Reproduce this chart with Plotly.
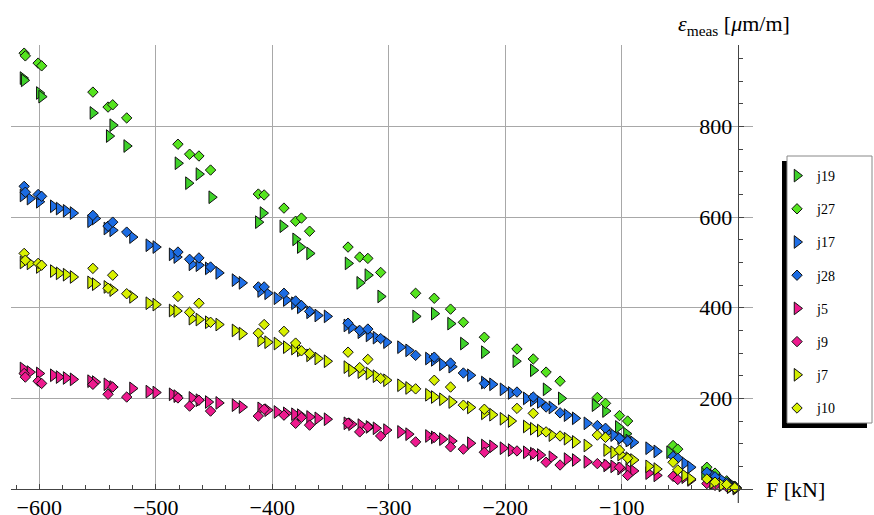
import plotly.graph_objects as go

# ---------------- data ----------------
# load steps of the "diamond" measurements (kN)
F_D = [-613, -612, -601, -598, -554, -541, -537, -525, -481, -471, -463, -453,
       -412, -407, -390, -380, -375, -368, -335, -325, -318, -307, -277, -261,
       -247, -236, -218, -190, -176, -165, -153, -121, -114, -102, -95, -56,
       -52, -27, -20, -10, -3]
J27 = [962, 956, 940, 934, 876, 843, 848, 819, 761, 739, 735, 704,
       651, 649, 620, 591, 598, 569, 534, 512, 509, 478, 432, 421,
       397, 368, 335, 309, 287, 258, 238, 202, 189, 162, 150, 96,
       88, 48, 35, 18, 6]
J28 = [668, 655, 650, 646, 604, 580, 589, 567, 523, 507, 510, 490,
       446, 446, 432, 415, 405, 392, 366, 350, 353, 332, 295, 291,
       278, 256, 233, 214, 203, 181, 168, 140, 134, 112, 106, 72,
       68, 37, 27, 14, 5]
J9 = [255, 247, 238, 233, 231, 209, 225, 203, 201, 183, 196, 172,
      161, 176, 163, 145, 158, 141, 145, 126, 137, 117, 104, 114,
      93, 88, 81, 84, 78, 59, 53, 56, 53, 48, 30, 28,
      21, 12, 8, 5, 2]
J10 = [520, 505, 498, 494, 487, 443, 472, 431, 425, 390, 410, 368,
       344, 363, 348, 322, 305, 299, 302, 268, 286, 244, 221, 240,
       225, 185, 176, 178, 167, 126, 117, 119, 114, 86, 68, 59,
       42, 22, 15, 10, 3]

# load steps of the "triangle" measurements (kN)
F_T = [-614, -608, -600, -588, -583, -577, -571, -556, -552, -542, -537, -520,
       -506, -500, -486, -482, -469, -463, -455, -446, -432, -426, -410, -404,
       -396, -388, -381, -376, -368, -361, -353, -336, -332, -324, -317, -311,
       -302, -290, -283, -266, -261, -254, -246, -230, -218, -211, -202, -195,
       -182, -176, -170, -160, -147, -140, -130, -113, -107, -101, -94, -90,
       -77, -70, -46, -41, -22, -14, -7, -2]
J17 = [648, 641, 634, 624, 619, 614, 609, 591, 597, 575, 571, 556,
       538, 534, 518, 512, 496, 494, 487, 477, 461, 455, 437, 432,
       421, 417, 410, 401, 390, 383, 381, 361, 357, 346, 339, 334,
       324, 313, 306, 288, 285, 275, 270, 251, 235, 231, 220, 212,
       200, 196, 192, 180, 163, 156, 145, 125, 119, 112, 107, 103,
       90, 83, 57, 48, 30, 20, 10, 3]
J5 = [266, 258, 255, 251, 247, 245, 242, 238, 236, 231, 225, 222,
      215, 213, 209, 205, 201, 196, 192, 190, 185, 181, 178, 174,
      170, 167, 165, 163, 159, 156, 154, 145, 143, 141, 137, 134,
      130, 126, 121, 117, 114, 110, 106, 101, 96, 94, 90, 86,
      81, 78, 75, 70, 66, 64, 60, 52, 50, 45, 42, 40,
      35, 30, 26, 20, 12, 8, 4, 1]
J7 = [500, 498, 490, 481, 476, 473, 468, 456, 452, 446, 439, 424,
      410, 407, 394, 393, 376, 374, 368, 363, 350, 343, 328, 324,
      321, 313, 310, 306, 295, 288, 282, 269, 262, 258, 255, 249,
      240, 229, 223, 208, 203, 198, 192, 180, 167, 164, 155, 150,
      138, 133, 129, 119, 111, 104, 96, 86, 81, 76, 68, 64,
      50, 44, 30, 22, 14, 9, 5, 2]

# j19 was recorded at fewer load steps
F_J19 = [-614, -613, -600, -598, -554, -540, -537, -525, -481, -472, -463, -452,
         -412, -408, -391, -380, -376, -368, -335, -325, -318, -307, -277, -261,
         -247, -236, -218, -191, -176, -165, -152, -123, -114, -103, -96, -59,
         -29, -5]
J19 = [907, 902, 874, 866, 830, 779, 803, 757, 719, 675, 695, 644,
       589, 609, 580, 551, 534, 520, 498, 455, 472, 425, 381, 387,
       365, 321, 302, 282, 262, 220, 200, 185, 172, 137, 122, 81,
       35, 8]

X_TICKS = [-600, -500, -400, -300, -200, -100]
Y_TICKS = [200, 400, 600, 800]
X_RANGE = [-624.3, 12.6]
Y_RANGE = [0, 980]

SERIES = [
    ("j19", F_J19, J19, "triangle-right", "#3ed22a"),
    ("j27", F_D, J27, "diamond", "#55e41e"),
    ("j17", F_T, J17, "triangle-right", "#1f6fe6"),
    ("j28", F_D, J28, "diamond", "#1b6be2"),
    ("j5", F_T, J5, "triangle-right", "#ee1a8e"),
    ("j9", F_D, J9, "diamond", "#ee1a8e"),
    ("j7", F_T, J7, "triangle-right", "#d2ee00"),
    ("j10", F_D, J10, "diamond", "#d8f000"),
]

# ---------------- figure ----------------
W, H = 874, 515
L, R, T, B = 11, 121, 45, 26
PW, PH = W - L - R, H - T - B
AXIS_X_PX = 738.3          # pixel column of F = 0 (vertical axis)

SERIF = "Liberation Serif, Times New Roman, serif"

fig = go.Figure()
for name, xs, ys, sym, col in SERIES:
    fig.add_trace(go.Scatter(
        x=xs, y=ys, mode="markers", name=name, legendgroup=name,
        cliponaxis=False,
        marker=dict(symbol=sym, color=col,
                    size=11 if sym.startswith("triangle") else 8,
                    line=dict(color="#111111", width=1)),
    ))

# invisible copy of one series on the label-only twin axis (so that axis is drawn)
fig.add_trace(go.Scatter(
    x=F_J19, y=J19, yaxis="y2", mode="markers", showlegend=False,
    hoverinfo="skip", marker=dict(opacity=0, size=1),
))


def px_x(px):
    return (px - L) / PW


def px_y(py):
    return (H - B - py) / PH


shapes = [
    # legend shadow + box
    dict(type="rect", xref="paper", yref="paper",
         x0=px_x(782), x1=px_x(867), y0=px_y(428), y1=px_y(161),
         fillcolor="black", line=dict(width=0), layer="below"),
    dict(type="rect", xref="paper", yref="paper",
         x0=px_x(787), x1=px_x(872), y0=px_y(423), y1=px_y(156),
         fillcolor="white", line=dict(color="#888888", width=1), layer="below"),
    # short extension of the vertical axis below the horizontal axis
    dict(type="line", xref="x", yref="paper", x0=0, x1=0,
         y0=0, y1=px_y(503), line=dict(color="#444444", width=1.2)),
]

fig.update_layout(
    width=W, height=H,
    margin=dict(l=L, r=R, t=T, b=B, pad=0, autoexpand=False),
    paper_bgcolor="white", plot_bgcolor="white",
    font=dict(family=SERIF, size=22, color="black"),
    showlegend=True,
    legend=dict(
        xref="container", yref="container",
        x=777 / W, y=1 - 160 / H, xanchor="left", yanchor="top",
        bgcolor="rgba(0,0,0,0)", borderwidth=0,
        font=dict(family=SERIF, size=14, color="black"),
        tracegroupgap=12, traceorder="grouped", maxheight=340,
        itemclick=False, itemdoubleclick=False,
    ),
    shapes=shapes,
    annotations=[
        dict(text="F [kN]", xref="paper", yref="y", x=px_x(764), y=0,
             xanchor="left", yanchor="middle", showarrow=False,
             font=dict(family=SERIF, size=22, color="black")),
        dict(text="<i>ε</i><sub>meas</sub> [<i>μ</i>m/m]", xref="paper", yref="paper",
             x=px_x(676), y=px_y(25), xanchor="left", yanchor="middle",
             showarrow=False, font=dict(family=SERIF, size=22, color="black")),
    ],
    xaxis=dict(
        range=X_RANGE, tickvals=X_TICKS, showgrid=True, gridcolor="#a8a8a8", gridwidth=1,
        zeroline=False, showline=True, linecolor="#444444", linewidth=1.2,
        ticks="inside", ticklen=5, tickwidth=1, tickcolor="#444444",
        minor=dict(dtick=20, tick0=0, ticks="inside", ticklen=4,
                   tickcolor="#444444", showgrid=False),
        tickfont=dict(family=SERIF, size=22, color="black"),
        ticklabelstandoff=-2, automargin=False, fixedrange=True,
    ),
    # data axis: line, ticks and grid sit on F = 0
    yaxis=dict(
        range=Y_RANGE, tickvals=Y_TICKS, showgrid=True, gridcolor="#a8a8a8", gridwidth=1,
        zeroline=False, showline=True, linecolor="#444444", linewidth=1.2,
        anchor="free", position=px_x(AXIS_X_PX), side="left",
        ticks="inside", ticklen=5, tickwidth=1, tickcolor="#444444",
        minor=dict(dtick=50, tick0=0, ticks="inside", ticklen=4,
                   tickcolor="#444444", showgrid=False),
        showticklabels=False, automargin=False, fixedrange=True,
    ),
    # label-only twin of the y axis, so the numbers sit close to the axis line
    yaxis2=dict(
        range=Y_RANGE, tickvals=Y_TICKS, overlaying="y",
        anchor="free", position=px_x(AXIS_X_PX - 6), side="left",
        showgrid=False, zeroline=False, showline=False, ticks="",
        tickfont=dict(family=SERIF, size=22, color="black"),
        automargin=False, fixedrange=True,
    ),
)

fig.write_html("out.html")
